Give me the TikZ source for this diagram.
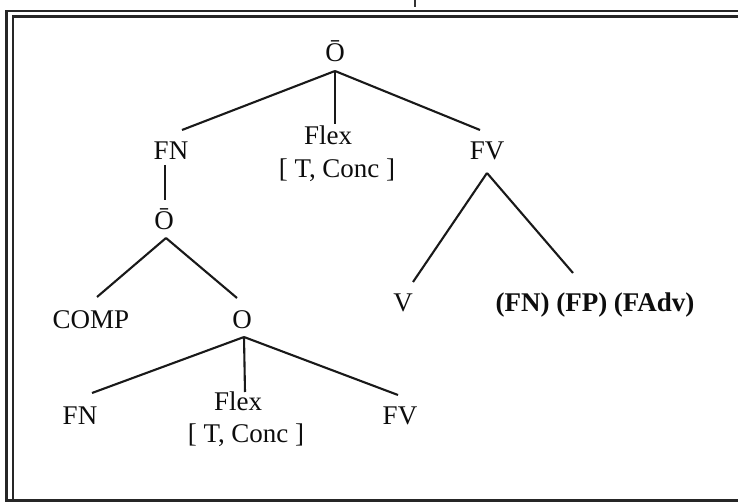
\documentclass[tikz,border=0pt]{standalone}
\usepackage{fontspec}
\setmainfont{Liberation Serif}
\usetikzlibrary{calc}
\begin{document}
\begin{tikzpicture}[x=1pt,y=-1pt,
  lbl/.style={inner sep=0pt,anchor=base,text=black!95,font=\fontsize{27}{31}\selectfont},
  boldlbl/.style={lbl,font=\fontsize{27}{31}\selectfont\bfseries},
  branch/.style={line width=2.1pt,draw=black!90},
  rule/.style={line width=2.6pt,draw=black!85}]
\useasboundingbox (0,0) rectangle (738,502);
% double frame
\draw[rule] (738,11) -- (6.5,11) -- (6.5,502);
\draw[rule] (738,16.5) -- (13,16.5) -- (13,499);
\draw[line width=3pt,draw=black!85] (6.5,500) -- (738,500);
% stroke of a glyph cut by the top edge
\draw[line width=1.8pt,draw=black!80] (415,0) -- (415,7);
% upper clause
\node[lbl] (top)   at (335,62)  {Ō};
\node[lbl] (fnA)   at (171,160) {FN};
\node[lbl] (flexA) at (328,145) {Flex};
\node[lbl] (concA) at (337,178) {[ T, Conc ]};
\node[lbl] (fvA)   at (487,160) {FV};
% embedded clause
\node[lbl] (obar)  at (164,230) {Ō};
\node[lbl] (comp)  at (91,328)  {COMP};
\node[lbl] (o)     at (242,328) {O};
\node[lbl] (fnB)   at (80,424)  {FN};
\node[lbl] (flexB) at (238,410) {Flex};
\node[lbl] (concB) at (246,442) {[ T, Conc ]};
\node[lbl] (fvB)   at (400,424) {FV};
% verb phrase
\node[lbl] (v)     at (403,312) {V};
\node[boldlbl] (args) at (595,312) {(FN) (FP) (FAdv)};
% branches
\draw[branch] ($(top.base)+(0,9)$) -- ($(fnA.base)+(11,-30)$);
\draw[branch] ($(top.base)+(0,9)$) -- ($(flexA.base)+(7,-21)$);
\draw[branch] ($(top.base)+(0,9)$) -- ($(fvA.base)+(-7,-30)$);
\draw[branch] ($(fnA.base)+(-6,5)$) -- ($(obar.base)+(1,-30)$);
\draw[branch] ($(obar.base)+(2,8)$) -- ($(comp.base)+(6,-31)$);
\draw[branch] ($(obar.base)+(2,8)$) -- ($(o.base)+(-5,-30)$);
\draw[branch] ($(o.base)+(2,9)$) -- ($(fnB.base)+(12,-31)$);
\draw[branch] ($(o.base)+(2,9)$) -- ($(flexB.base)+(7,-18)$);
\draw[branch] ($(o.base)+(2,9)$) -- ($(fvB.base)+(-2,-29)$);
\draw[branch] ($(fvA.base)+(0,13)$) -- ($(v.base)+(10,-30)$);
\draw[branch] ($(fvA.base)+(0,13)$) -- ($(args.base)+(-22,-39)$);
\end{tikzpicture}
\end{document}
